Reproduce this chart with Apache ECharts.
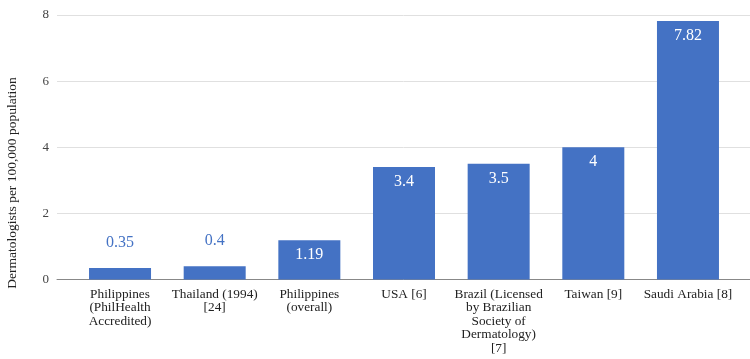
<!DOCTYPE html>
<html>
<head>
<meta charset="utf-8">
<script src="https://cdn.jsdelivr.net/npm/echarts@6/dist/echarts.min.js"></script>
<style>html,body{margin:0;padding:0;background:#fff}#c{width:750px;height:359px}</style>
</head>
<body>
<div id="c"></div>
<script>
const categories = [
  "Philippines\n(PhilHealth\nAccredited)",
  "Thailand (1994)\n[24]",
  "Philippines\n(overall)",
  "USA [6]",
  "Brazil (Licensed\nby Brazilian\nSociety of\nDermatology)\n[7]",
  "Taiwan [9]",
  "Saudi Arabia [8]"
];
const values = [0.35, 0.4, 1.19, 3.4, 3.5, 4, 7.82];
const yTicks = [0, 2, 4, 6, 8];
const yName = "Dermatologists per 100,000 population";

const font = "'Liberation Serif', 'Times New Roman', serif";
const blue = "#4472c4";

const chart = echarts.init(document.getElementById('c'));
chart.setOption({
  animation: false,
  grid: [
    {left: 57, right: 0, top: 15, bottom: 79.5},
    {left: 72.7, right: 14.7, top: 15, bottom: 79.5}
  ],
  xAxis: [
    {gridIndex: 0, type: 'value', min: 0, max: 1, axisLabel: {show: false}, axisTick: {show: false}, splitLine: {show: false},
     axisLine: {show: true, onZero: true, lineStyle: {color: '#888', width: 1}}},
    {gridIndex: 1, type: 'category', data: categories, axisLine: {show: false}, axisTick: {show: false},
     axisLabel: {interval: 0, margin: 8, fontFamily: font, fontSize: 13.3, lineHeight: 13.5, color: '#222'}}
  ],
  yAxis: [
    {gridIndex: 0, type: 'value', min: yTicks[0], max: yTicks[yTicks.length - 1], interval: 2,
     axisLine: {show: false}, axisTick: {show: false},
     axisLabel: {margin: 8, fontFamily: font, fontSize: 13, color: '#444'},
     splitLine: {lineStyle: {color: '#e0e0e0', width: 1}}},
    {gridIndex: 1, type: 'value', min: 0, max: 8, show: false, splitLine: {show: false}}
  ],
  series: [{
    type: 'bar',
    xAxisIndex: 1, yAxisIndex: 1,
    data: values.map(v => ({
      value: v,
      label: v < 1 ? {position: 'top', distance: 17, color: blue} : {position: 'insideTop', distance: 7, color: '#fff'}
    })),
    barWidth: 62,
    itemStyle: {color: blue},
    label: {show: true, fontFamily: font, fontSize: 16}
  }],
  graphic: [{
    type: 'text', x: 12, y: 183, rotation: Math.PI / 2,
    style: {text: yName, fontFamily: font, fontSize: 13.5, fill: '#222', align: 'center', verticalAlign: 'middle'}
  }]
});
</script>
</body>
</html>
